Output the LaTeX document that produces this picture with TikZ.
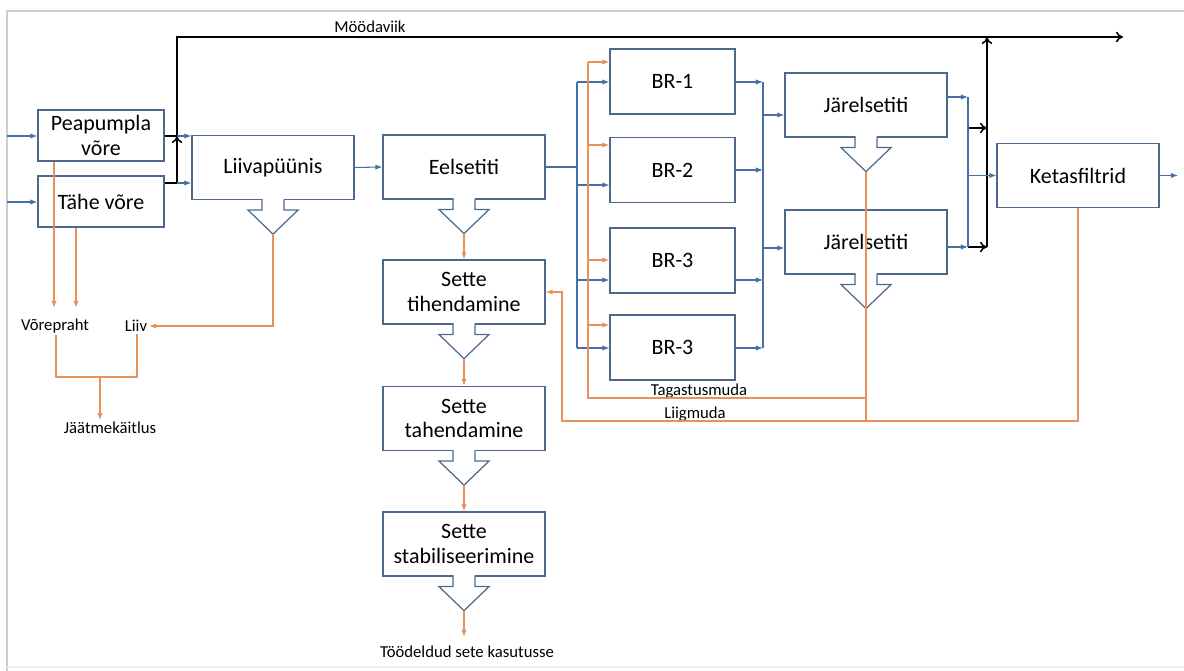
\documentclass[tikz,border=0pt]{standalone}
\usepackage{fontspec}
\setmainfont{Carlito}
\usetikzlibrary{arrows.meta}
\definecolor{boxline}{RGB}{78, 104, 142}
\definecolor{flowblue}{RGB}{72, 110, 168}
\definecolor{sludge}{RGB}{232, 146, 90}
\definecolor{framegray}{RGB}{205, 205, 205}

\tikzset{
	box/.style={draw=boxline, line width=0.7pt, fill=white, minimum width=3.24cm, minimum height=1.28cm, inner sep=0pt, align=center, font=\fontsize{12.5}{14}\selectfont},
	smallbox/.style={box, minimum width=2.52cm, minimum height=1.02cm},
	brbox/.style={box, minimum width=2.5cm, minimum height=1.3cm},
	lbl/.style={inner sep=1pt, font=\fontsize{9.5}{11}\selectfont},
	flowline/.style={flowblue, line width=0.6pt},
	flow/.style={flowline, -{Latex[length=4pt,width=3pt]}},
	sludgeline/.style={sludge, line width=0.6pt},
	sludgeflow/.style={sludgeline, -{Latex[length=4pt,width=3pt]}},
	bypass/.style={black, line width=0.9pt},
}

% funnel under a box, tip is named <box>-tip
\newcommand{\funnel}[1]{%
	\path[fill=white] (#1.south) ++(-10.5,-2) -- ++(0,12) -- ++(-14,0) -- ++(24.5,24) -- ++(24.5,-24) -- ++(-14,0) -- ++(0,-12) -- cycle;
	\draw[boxline, line width=0.7pt, line join=miter] (#1.south) ++(-11,0) -- ++(0,10) -- ++(-14,0) -- ++(25,24) coordinate (#1-tip) -- ++(25,-24) -- ++(-14,0) -- ++(0,-10);
}

\begin{document}
\begin{tikzpicture}[x=0.02cm, y=-0.02cm]
	\useasboundingbox (0,0) rectangle (1184,671);
	\draw[framegray, line width=0.8pt] (7,671) -- (7,11) -- (1184,11);
	\draw[framegray!30, line width=0.8pt] (7,667) -- (1184,667);

	% boxes
	\node[smallbox] (pea) at (101,135.5) {Peapumpla\\võre};
	\node[smallbox] (tahe) at (101,201.5) {Tähe võre};
	\node[box] (liiva) at (273,167.5) {Liivapüünis};
	\node[box] (eel) at (464,167) {Eelsetiti};
	\node[box] (tih) at (464,292) {Sette\\tihendamine};
	\node[box] (tah) at (464,418.5) {Sette\\tahendamine};
	\node[box] (stab) at (464,544) {Sette\\stabiliseerimine};
	\node[brbox] (br1) at (672.5,81.5) {BR-1};
	\node[brbox] (br2) at (672.5,170) {BR-2};
	\node[brbox] (br3) at (672.5,260.5) {BR-3};
	\node[brbox] (br4) at (672.5,347.5) {BR-3};
	\node[box] (jar1) at (866,105) {Järelsetiti};
	\node[box] (jar2) at (866,242) {Järelsetiti};
	\node[box] (keta) at (1078,175.5) {Ketasfiltrid};

	\funnel{liiva}
	\funnel{eel}
	\funnel{tih}
	\funnel{tah}
	\funnel{stab}
	\funnel{jar1}
	\funnel{jar2}

	% texts
	\node[lbl] (mood) at (370,27) {Möödaviik};
	\node[lbl] (vorepraht) at (55,326) {Võrepraht};
	\node[lbl] (liiv) at (136,326) {Liiv};
	\node[lbl] (jaatme) at (110,428) {Jäätmekäitlus};
	\node[lbl] (kasutus) at (467,652) {Töödeldud sete kasutusse};
	\node[lbl] (tagastus) at (699,391) {Tagastusmuda};
	\node[lbl] (liigmuda) at (695,414) {Liigmuda};

	% coordinates
	\coordinate (in1) at (7,136);
	\coordinate (in2) at (7,202);
	\coordinate (ja) at (177,136);
	\coordinate (jb) at (177,183);
	\coordinate (jtop) at (177,37);
	\coordinate (jr) at (987,37);
	\coordinate (bypend) at (1123,37);
	\coordinate (d1) at (577,82);
	\coordinate (d2) at (577,185);
	\coordinate (d3) at (577,280);
	\coordinate (d4) at (577,348);
	\coordinate (r1) at (588,62);
	\coordinate (r2) at (588,145);
	\coordinate (r3) at (588,260);
	\coordinate (r4) at (588,325);
	\coordinate (c1) at (763,82);
	\coordinate (c2) at (763,170);
	\coordinate (c3) at (763,280);
	\coordinate (c4) at (763,348);
	\coordinate (cj1) at (763,115);
	\coordinate (cj2) at (763,248);
	\coordinate (o1) at (968,97);
	\coordinate (o2) at (968,247);
	\coordinate (ok) at (968,175.5);
	\coordinate (ob) at (968,128);
	\coordinate (rb1) at (987,128);
	\coordinate (rb2) at (987,247);
	\coordinate (kout) at (1178,175.5);
	\coordinate (tag) at (588,398);
	\coordinate (tagr) at (866,398);
	\coordinate (liig) at (562,421);
	\coordinate (liigr) at (1078,421);
	\coordinate (liigup) at (562,292);
	\coordinate (w1) at (54,308);
	\coordinate (w2) at (76,308);
	\coordinate (sandc) at (273,326);
	\coordinate (wl) at (56,377);
	\coordinate (wr) at (137,377);
	\coordinate (wm) at (100,377);
	\coordinate (stabout) at (464,637);

	% inflow
	\draw[flow] (in1) -- (in1 -| pea.west);
	\draw[flow] (in2) -- (in2 -| tahe.west);
	% bypass
	\draw[bypass] (pea.east |- ja) -- (ja);
	\draw[bypass] (tahe.east |- jb) -- (jb);
	\draw[bypass, -{To[length=4pt,width=6pt]}] (jb) -- (ja);
	\draw[bypass, -{To[length=4pt,width=6pt]}] (ja) -- (jtop) -- (bypend);
	\draw[bypass, -{To[length=4pt,width=6pt]}] (rb2) -- (jr);
	\draw[bypass, -{To[length=4pt,width=6pt]}] (ob) -- (rb1);
	\draw[bypass, -{To[length=4pt,width=6pt]}] (o2) -- (rb2);
	% main line
	\draw[flow] (ja) -- (ja -| liiva.west);
	\draw[flow] (jb) -- (jb -| liiva.west);
	\draw[flow] (liiva.east) -- (eel.west);
	\draw[flowline] (eel.east) -- (eel.east -| d1);
	\draw[flowline] (d1) -- (d4);
	\foreach \i in {1,...,4}
		\draw[flow] (d\i) -- (d\i -| br\i.west);
	\foreach \i in {1,...,4}
		\draw[flow] (br\i.east |- c\i) -- (c\i);
	\draw[flowline] (c1) -- (c4);
	\draw[flow] (cj1) -- (cj1 -| jar1.west);
	\draw[flow] (cj2) -- (cj2 -| jar2.west);
	\draw[flow] (jar1.east |- o1) -- (o1);
	\draw[flow] (jar2.east |- o2) -- (o2);
	\draw[flowline] (o1) -- (o2);
	\draw[flow] (ok) -- (keta.west);
	\draw[flow] (keta.east) -- (kout);
	% return sludge
	\draw[sludgeline] (tagr) -- (tag) -- (r1);
	\foreach \i in {1,...,4}
		\draw[sludgeflow] (r\i) -- (r\i -| br\i.west);
	\draw[sludgeline] (jar1-tip) -- (jar1-tip |- liig);
	% excess sludge
	\draw[sludgeflow] (keta.south) -- (liigr) -- (liig) -- (liigup) -- (tih.east);
	% sludge line
	\draw[sludgeflow] (eel-tip) -- (tih.north);
	\draw[sludgeflow] (tih-tip) -- (tah.north);
	\draw[sludgeflow] (tah-tip) -- (stab.north);
	\draw[sludgeflow] (stab-tip) -- (stabout);
	% screenings and sand
	\draw[sludgeflow] (pea.south -| w1) -- (w1);
	\draw[sludgeflow] (tahe.south -| w2) -- (w2);
	\draw[sludgeflow] (liiva-tip) -- (sandc) -- (liiv.east);
	\draw[sludgeline] (vorepraht.south -| wl) -- (wl) -- (wr) -- (liiv.south -| wr);
	\draw[sludgeflow] (wm) -- (jaatme.north -| wm);
\end{tikzpicture}
\end{document}
